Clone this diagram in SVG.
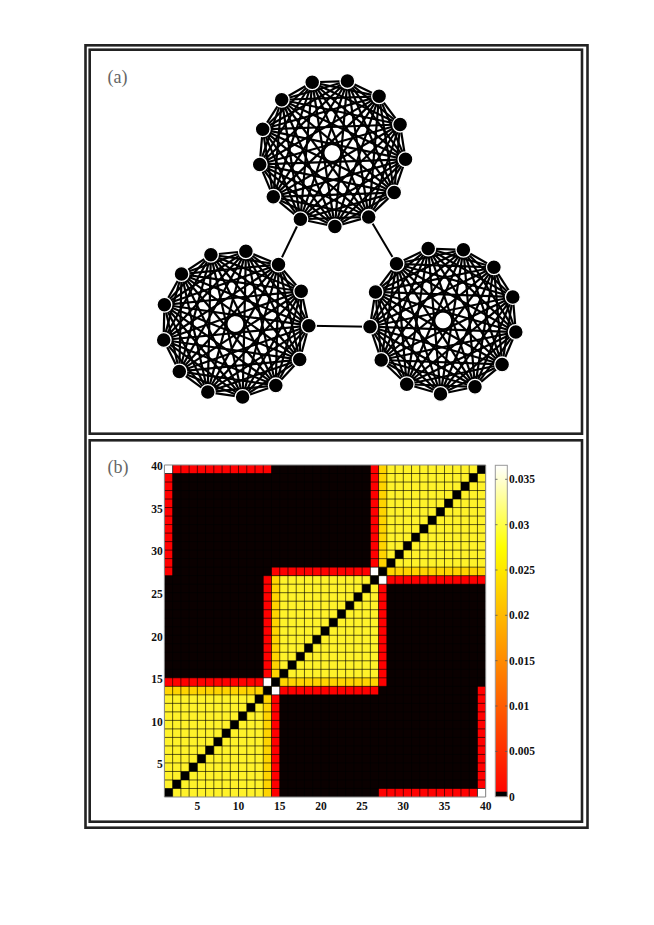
<svg xmlns="http://www.w3.org/2000/svg" xmlns:xlink="http://www.w3.org/1999/xlink" width="654" height="925" viewBox="0 0 654 925">
<style>
.frame{fill:none;stroke:#222;stroke-width:2.6}
.lbl{font-family:"Liberation Serif",serif;font-size:18px;fill:#666}
.tk{font-family:"Liberation Serif",serif;font-size:11.5px;font-weight:bold;fill:#111}
#k13 path{stroke:#000;stroke-width:2.2;fill:none}
.n circle{fill:#000;stroke:#fff;stroke-width:1.3}
.bridge{stroke:#000;stroke-width:2;fill:none}
.grid{fill:none;stroke:#000;stroke-opacity:.7;stroke-width:.9}
</style>
<defs>
<linearGradient id="cb" x1="0" y1="1" x2="0" y2="0">
<stop offset="0" stop-color="#ff0000"/>
<stop offset="0.753" stop-color="#ffff00"/>
<stop offset="1" stop-color="#ffffff"/>
</linearGradient>
<g id="k13">
<path d="M73.5 0L65.1 34.2"/>
<path d="M73.5 0L41.8 60.5"/>
<path d="M73.5 0L8.9 73"/>
<path d="M73.5 0L-26.1 68.7"/>
<path d="M73.5 0L-55 48.7"/>
<path d="M73.5 0L-71.4 17.6"/>
<path d="M73.5 0L-71.4 -17.6"/>
<path d="M73.5 0L-55 -48.7"/>
<path d="M73.5 0L-26.1 -68.7"/>
<path d="M73.5 0L8.9 -73"/>
<path d="M73.5 0L41.8 -60.5"/>
<path d="M73.5 0L65.1 -34.2"/>
<path d="M65.1 34.2L41.8 60.5"/>
<path d="M65.1 34.2L8.9 73"/>
<path d="M65.1 34.2L-26.1 68.7"/>
<path d="M65.1 34.2L-55 48.7"/>
<path d="M65.1 34.2L-71.4 17.6"/>
<path d="M65.1 34.2L-71.4 -17.6"/>
<path d="M65.1 34.2L-55 -48.7"/>
<path d="M65.1 34.2L-26.1 -68.7"/>
<path d="M65.1 34.2L8.9 -73"/>
<path d="M65.1 34.2L41.8 -60.5"/>
<path d="M65.1 34.2L65.1 -34.2"/>
<path d="M41.8 60.5L8.9 73"/>
<path d="M41.8 60.5L-26.1 68.7"/>
<path d="M41.8 60.5L-55 48.7"/>
<path d="M41.8 60.5L-71.4 17.6"/>
<path d="M41.8 60.5L-71.4 -17.6"/>
<path d="M41.8 60.5L-55 -48.7"/>
<path d="M41.8 60.5L-26.1 -68.7"/>
<path d="M41.8 60.5L8.9 -73"/>
<path d="M41.8 60.5L41.8 -60.5"/>
<path d="M41.8 60.5L65.1 -34.2"/>
<path d="M8.9 73L-26.1 68.7"/>
<path d="M8.9 73L-55 48.7"/>
<path d="M8.9 73L-71.4 17.6"/>
<path d="M8.9 73L-71.4 -17.6"/>
<path d="M8.9 73L-55 -48.7"/>
<path d="M8.9 73L-26.1 -68.7"/>
<path d="M8.9 73L8.9 -73"/>
<path d="M8.9 73L41.8 -60.5"/>
<path d="M8.9 73L65.1 -34.2"/>
<path d="M-26.1 68.7L-55 48.7"/>
<path d="M-26.1 68.7L-71.4 17.6"/>
<path d="M-26.1 68.7L-71.4 -17.6"/>
<path d="M-26.1 68.7L-55 -48.7"/>
<path d="M-26.1 68.7L-26.1 -68.7"/>
<path d="M-26.1 68.7L8.9 -73"/>
<path d="M-26.1 68.7L41.8 -60.5"/>
<path d="M-26.1 68.7L65.1 -34.2"/>
<path d="M-55 48.7L-71.4 17.6"/>
<path d="M-55 48.7L-71.4 -17.6"/>
<path d="M-55 48.7L-55 -48.7"/>
<path d="M-55 48.7L-26.1 -68.7"/>
<path d="M-55 48.7L8.9 -73"/>
<path d="M-55 48.7L41.8 -60.5"/>
<path d="M-55 48.7L65.1 -34.2"/>
<path d="M-71.4 17.6L-71.4 -17.6"/>
<path d="M-71.4 17.6L-55 -48.7"/>
<path d="M-71.4 17.6L-26.1 -68.7"/>
<path d="M-71.4 17.6L8.9 -73"/>
<path d="M-71.4 17.6L41.8 -60.5"/>
<path d="M-71.4 17.6L65.1 -34.2"/>
<path d="M-71.4 -17.6L-55 -48.7"/>
<path d="M-71.4 -17.6L-26.1 -68.7"/>
<path d="M-71.4 -17.6L8.9 -73"/>
<path d="M-71.4 -17.6L41.8 -60.5"/>
<path d="M-71.4 -17.6L65.1 -34.2"/>
<path d="M-55 -48.7L-26.1 -68.7"/>
<path d="M-55 -48.7L8.9 -73"/>
<path d="M-55 -48.7L41.8 -60.5"/>
<path d="M-55 -48.7L65.1 -34.2"/>
<path d="M-26.1 -68.7L8.9 -73"/>
<path d="M-26.1 -68.7L41.8 -60.5"/>
<path d="M-26.1 -68.7L65.1 -34.2"/>
<path d="M8.9 -73L41.8 -60.5"/>
<path d="M8.9 -73L65.1 -34.2"/>
<path d="M41.8 -60.5L65.1 -34.2"/>
</g>
</defs>
<rect width="654" height="925" fill="#fff"/>
<g id="frames">
<rect class="frame" x="85.5" y="45.3" width="502" height="782.4"/>
<rect class="frame" x="89.7" y="49.7" width="492.3" height="384"/>
<rect class="frame" x="89.7" y="440.3" width="492.3" height="381.4"/>
</g>
<text class="lbl" x="107.5" y="83">(a)</text>
<text class="lbl" x="107.5" y="473">(b)</text>
<g id="connectors">
<path class="bridge" d="M300.4 219.2L278.5 264.5"/>
<path class="bridge" d="M368.7 216.9L396.5 263.8"/>
<path class="bridge" d="M308.9 325.7L370 326.7"/>
<use xlink:href="#k13" href="#k13" transform="translate(332.3 153) rotate(88)"/>
<use xlink:href="#k13" href="#k13" transform="translate(235.4 324) rotate(1.3)"/>
<use xlink:href="#k13" href="#k13" transform="translate(443.2 320.5) rotate(9)"/>
</g>
<g id="nodes-top">
<g id="t0" class="n"><circle cx="334.9" cy="226.5" r="7.4"/></g>
<g id="t1" class="n"><circle cx="300.4" cy="219.2" r="7.4"/></g>
<g id="t2" class="n"><circle cx="273.3" cy="196.8" r="7.4"/></g>
<g id="t3" class="n"><circle cx="259.7" cy="164.4" r="7.4"/></g>
<g id="t4" class="n"><circle cx="262.7" cy="129.3" r="7.4"/></g>
<g id="t5" class="n"><circle cx="281.7" cy="99.7" r="7.4"/></g>
<g id="t6" class="n"><circle cx="312.2" cy="82.3" r="7.4"/></g>
<g id="t7" class="n"><circle cx="347.4" cy="81.1" r="7.4"/></g>
<g id="t8" class="n"><circle cx="379.1" cy="96.3" r="7.4"/></g>
<g id="t9" class="n"><circle cx="400.1" cy="124.6" r="7.4"/></g>
<g id="t10" class="n"><circle cx="405.5" cy="159.3" r="7.4"/></g>
<g id="t11" class="n"><circle cx="394.2" cy="192.6" r="7.4"/></g>
<g id="t12" class="n"><circle cx="368.7" cy="216.9" r="7.4"/></g>
</g>
<g id="nodes-left">
<g id="l0" class="n"><circle cx="308.9" cy="325.7" r="7.4"/></g>
<g id="l1" class="n"><circle cx="299.7" cy="359.6" r="7.4"/></g>
<g id="l2" class="n"><circle cx="275.8" cy="385.4" r="7.4"/></g>
<g id="l3" class="n"><circle cx="242.6" cy="397.1" r="7.4"/></g>
<g id="l4" class="n"><circle cx="207.8" cy="392.1" r="7.4"/></g>
<g id="l5" class="n"><circle cx="179.3" cy="371.5" r="7.4"/></g>
<g id="l6" class="n"><circle cx="163.7" cy="340" r="7.4"/></g>
<g id="l7" class="n"><circle cx="164.4" cy="304.8" r="7.4"/></g>
<g id="l8" class="n"><circle cx="181.5" cy="274" r="7.4"/></g>
<g id="l9" class="n"><circle cx="210.9" cy="254.7" r="7.4"/></g>
<g id="l10" class="n"><circle cx="245.9" cy="251.3" r="7.4"/></g>
<g id="l11" class="n"><circle cx="278.5" cy="264.5" r="7.4"/></g>
<g id="l12" class="n"><circle cx="301.2" cy="291.3" r="7.4"/></g>
</g>
<g id="nodes-right">
<g id="r0" class="n"><circle cx="515.8" cy="332" r="7.4"/></g>
<g id="r1" class="n"><circle cx="502.1" cy="364.4" r="7.4"/></g>
<g id="r2" class="n"><circle cx="475" cy="386.8" r="7.4"/></g>
<g id="r3" class="n"><circle cx="440.5" cy="394" r="7.4"/></g>
<g id="r4" class="n"><circle cx="406.7" cy="384.3" r="7.4"/></g>
<g id="r5" class="n"><circle cx="381.2" cy="360" r="7.4"/></g>
<g id="r6" class="n"><circle cx="370" cy="326.7" r="7.4"/></g>
<g id="r7" class="n"><circle cx="375.5" cy="292" r="7.4"/></g>
<g id="r8" class="n"><circle cx="396.5" cy="263.8" r="7.4"/></g>
<g id="r9" class="n"><circle cx="428.2" cy="248.5" r="7.4"/></g>
<g id="r10" class="n"><circle cx="463.4" cy="249.8" r="7.4"/></g>
<g id="r11" class="n"><circle cx="493.9" cy="267.3" r="7.4"/></g>
<g id="r12" class="n"><circle cx="512.8" cy="296.9" r="7.4"/></g>
</g>
<g id="matrix">
<g transform="translate(164.4 797) scale(8.238 -8.513)">
<rect x="0" y="0" width="39" height="39" fill="#0a0000"/>
<g fill="#fff22a">
<rect x="0" y="0" width="13" height="13"/>
<rect x="13" y="13" width="13" height="13"/>
<rect x="26" y="26" width="13" height="13"/>
</g>
<g fill="#ffd400">
<rect x="0" y="12" width="13" height="1"/>
<rect x="12" y="0" width="1" height="13"/>
<rect x="13" y="13" width="13" height="1"/>
<rect x="13" y="13" width="1" height="13"/>
<rect x="26" y="26" width="13" height="1"/>
<rect x="26" y="26" width="1" height="13"/>
</g>
<g fill="#ff0000">
<rect x="0" y="13" width="12" height="1"/>
<rect x="13" y="0" width="1" height="12"/>
<rect x="14" y="12" width="12" height="1"/>
<rect x="12" y="14" width="1" height="12"/>
<rect x="13" y="26" width="12" height="1"/>
<rect x="26" y="13" width="1" height="12"/>
<rect x="27" y="25" width="12" height="1"/>
<rect x="25" y="27" width="1" height="12"/>
<rect x="1" y="38" width="12" height="1"/>
<rect x="38" y="1" width="1" height="12"/>
<rect x="26" y="0" width="12" height="1"/>
<rect x="0" y="26" width="1" height="12"/>
</g>
<g fill="#ffffff">
<rect x="12" y="13" width="1" height="1"/>
<rect x="13" y="12" width="1" height="1"/>
<rect x="25" y="26" width="1" height="1"/>
<rect x="26" y="25" width="1" height="1"/>
<rect x="0" y="38" width="1" height="1"/>
<rect x="38" y="0" width="1" height="1"/>
</g>
<path fill="#000" d="M0 0h1v1h-1zM1 1h1v1h-1zM2 2h1v1h-1zM3 3h1v1h-1zM4 4h1v1h-1zM5 5h1v1h-1zM6 6h1v1h-1zM7 7h1v1h-1zM8 8h1v1h-1zM9 9h1v1h-1zM10 10h1v1h-1zM11 11h1v1h-1zM12 12h1v1h-1zM13 13h1v1h-1zM14 14h1v1h-1zM15 15h1v1h-1zM16 16h1v1h-1zM17 17h1v1h-1zM18 18h1v1h-1zM19 19h1v1h-1zM20 20h1v1h-1zM21 21h1v1h-1zM22 22h1v1h-1zM23 23h1v1h-1zM24 24h1v1h-1zM25 25h1v1h-1zM26 26h1v1h-1zM27 27h1v1h-1zM28 28h1v1h-1zM29 29h1v1h-1zM30 30h1v1h-1zM31 31h1v1h-1zM32 32h1v1h-1zM33 33h1v1h-1zM34 34h1v1h-1zM35 35h1v1h-1zM36 36h1v1h-1zM37 37h1v1h-1zM38 38h1v1h-1z"/>
<path class="grid" vector-effect="non-scaling-stroke" d="M1 0V39M2 0V39M3 0V39M4 0V39M5 0V39M6 0V39M7 0V39M8 0V39M9 0V39M10 0V39M11 0V39M12 0V39M13 0V39M14 0V39M15 0V39M16 0V39M17 0V39M18 0V39M19 0V39M20 0V39M21 0V39M22 0V39M23 0V39M24 0V39M25 0V39M26 0V39M27 0V39M28 0V39M29 0V39M30 0V39M31 0V39M32 0V39M33 0V39M34 0V39M35 0V39M36 0V39M37 0V39M38 0V39M0 1H39M0 2H39M0 3H39M0 4H39M0 5H39M0 6H39M0 7H39M0 8H39M0 9H39M0 10H39M0 11H39M0 12H39M0 13H39M0 14H39M0 15H39M0 16H39M0 17H39M0 18H39M0 19H39M0 20H39M0 21H39M0 22H39M0 23H39M0 24H39M0 25H39M0 26H39M0 27H39M0 28H39M0 29H39M0 30H39M0 31H39M0 32H39M0 33H39M0 34H39M0 35H39M0 36H39M0 37H39M0 38H39"/>
<rect x="0" y="0" width="39" height="39" fill="none" stroke="#888" stroke-width="1" vector-effect="non-scaling-stroke"/>
</g>
<g class="tk" text-anchor="middle">
<text x="197.4" y="809.5">5</text>
<text x="238.5" y="809.5">10</text>
<text x="279.7" y="809.5">15</text>
<text x="320.9" y="809.5">20</text>
<text x="362.1" y="809.5">25</text>
<text x="403.3" y="809.5">30</text>
<text x="444.4" y="809.5">35</text>
<text x="485.7" y="809.5">40</text>
</g>
<g class="tk" text-anchor="end">
<text x="162.8" y="768.3">5</text>
<text x="162.8" y="725.7">10</text>
<text x="162.8" y="683.1">15</text>
<text x="162.8" y="640.6">20</text>
<text x="162.8" y="598">25</text>
<text x="162.8" y="555.4">30</text>
<text x="162.8" y="512.9">35</text>
<text x="162.8" y="470.3">40</text>
</g>
</g>
<g id="colorbar">
<rect x="495.3" y="465.3" width="12" height="331.4" fill="url(#cb)"/>
<rect x="495.3" y="791.7" width="12" height="5" fill="#000"/>
<rect x="495.3" y="465.3" width="12" height="331.4" fill="none" stroke="#999" stroke-width="1"/>
<path stroke="#555" stroke-width="0.8" fill="none" d="M495.3 751.4h2.2M505.1 751.4h2.2M495.3 706h2.2M505.1 706h2.2M495.3 660.7h2.2M505.1 660.7h2.2M495.3 615.3h2.2M505.1 615.3h2.2M495.3 570h2.2M505.1 570h2.2M495.3 524.7h2.2M505.1 524.7h2.2M495.3 479.3h2.2M505.1 479.3h2.2"/>
<g class="tk">
<text x="509" y="800.7">0</text>
<text x="509" y="755.4">0.005</text>
<text x="509" y="710">0.01</text>
<text x="509" y="664.7">0.015</text>
<text x="509" y="619.3">0.02</text>
<text x="509" y="574">0.025</text>
<text x="509" y="528.7">0.03</text>
<text x="509" y="483.3">0.035</text>
</g>
</g>
</svg>
